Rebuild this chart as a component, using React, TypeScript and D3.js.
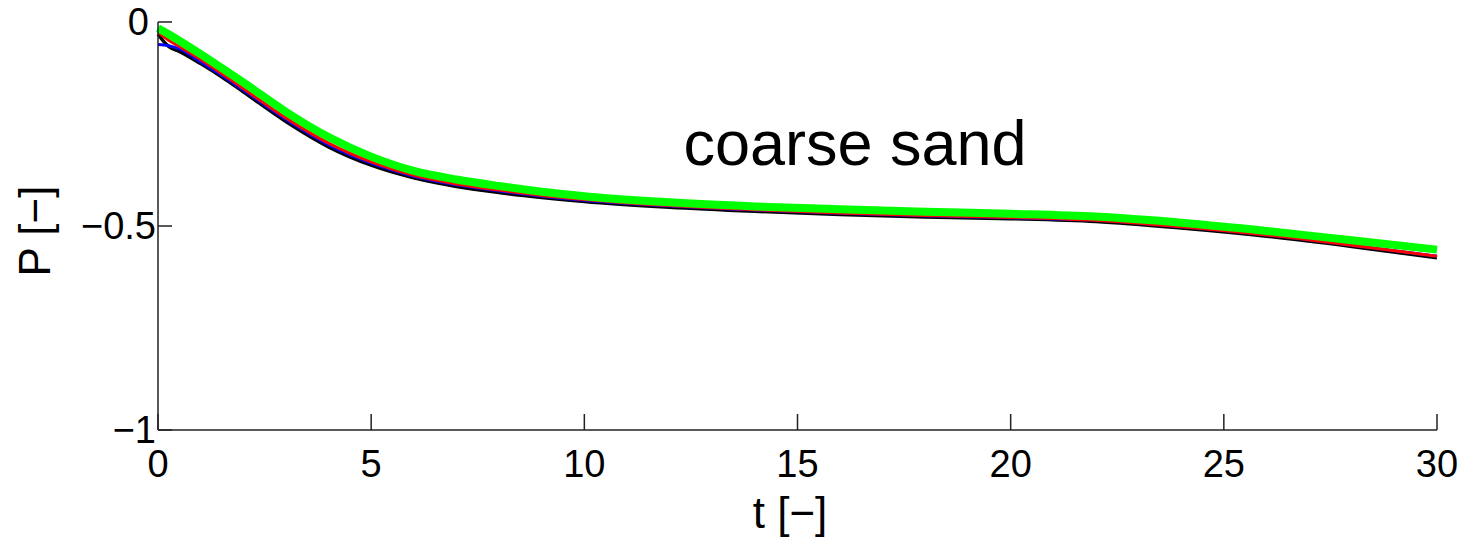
import { useEffect, useRef } from 'react';
import * as d3 from 'd3';

const tValues = [0, 0.25, 0.5, 1, 1.5, 2, 3, 4, 5, 6, 7, 8, 9, 10, 12, 14, 16, 18, 20, 22, 24, 26, 28, 30];

const blackP = [-0.03, -0.06, -0.072, -0.102, -0.135, -0.171, -0.244, -0.306, -0.351, -0.382, -0.403, -0.418, -0.43, -0.44, -0.454, -0.464, -0.472, -0.478, -0.482, -0.489, -0.505, -0.525, -0.55, -0.578];
const blueP = [-0.055, -0.058, -0.066, -0.098, -0.131, -0.167, -0.239, -0.301, -0.346, -0.378, -0.399, -0.414, -0.427, -0.437, -0.451, -0.461, -0.469, -0.475, -0.48, -0.486, -0.502, -0.522, -0.547, -0.574];
const redP = [-0.025, -0.045, -0.06, -0.092, -0.127, -0.163, -0.235, -0.297, -0.343, -0.376, -0.397, -0.412, -0.425, -0.435, -0.45, -0.46, -0.468, -0.474, -0.479, -0.486, -0.502, -0.522, -0.547, -0.574];
const greenP = [-0.015, -0.03, -0.046, -0.079, -0.113, -0.148, -0.22, -0.282, -0.33, -0.365, -0.386, -0.402, -0.416, -0.427, -0.442, -0.452, -0.459, -0.465, -0.47, -0.477, -0.492, -0.512, -0.535, -0.558];

const seriesList = [
  { name: 'black', values: blackP, color: '#000000', width: 3.5 },
  { name: 'blue', values: blueP, color: '#0000ff', width: 3 },
  { name: 'red', values: redP, color: '#ff0000', width: 3 },
  { name: 'green', values: greenP, color: '#00ff00', width: 8 },
];

const xTicks = [0, 5, 10, 15, 20, 25, 30];
const yTicks = [0, -0.5, -1];
const yTickLabels = ['0', '\u22120.5', '\u22121'];

const width = 1470;
const height = 549;
const margin = { left: 158, right: 33, top: 22, bottom: 119 };
const font = 'Liberation Sans, Arial, sans-serif';

const App = () => {
  const svgRef = useRef<SVGSVGElement>(null);

  useEffect(() => {
    const svg = d3.select(svgRef.current);
    svg.selectAll('*').remove();

    const x = d3.scaleLinear().domain([0, 30]).range([margin.left, width - margin.right]);
    const y = d3.scaleLinear().domain([-1, 0]).range([height - margin.bottom, margin.top]);

    const g = svg.append('g');

    // lines
    seriesList.forEach(s => {
      const line = d3.line<number>()
        .x((_, i) => x(tValues[i]))
        .y(d => y(d))
        .curve(d3.curveMonotoneX);
      g.append('path')
        .attr('d', line(s.values))
        .attr('fill', 'none')
        .attr('stroke', s.color)
        .attr('stroke-width', s.width)
        .attr('stroke-linejoin', 'round');
    });

    // axes lines
    g.append('line')
      .attr('x1', x(0)).attr('x2', x(30))
      .attr('y1', y(-1)).attr('y2', y(-1))
      .attr('stroke', '#222').attr('stroke-width', 1.5);
    g.append('line')
      .attr('x1', x(0)).attr('x2', x(0))
      .attr('y1', y(-1)).attr('y2', y(0))
      .attr('stroke', '#222').attr('stroke-width', 1.5);

    // x ticks (inward)
    g.selectAll('.xtick')
      .data(xTicks)
      .join('line')
      .attr('x1', d => x(d)).attr('x2', d => x(d))
      .attr('y1', y(-1)).attr('y2', y(-1) - 16)
      .attr('stroke', '#222').attr('stroke-width', 1.5);
    g.selectAll('.xlabel')
      .data(xTicks)
      .join('text')
      .attr('x', d => x(d))
      .attr('y', y(-1) + 47)
      .attr('text-anchor', 'middle')
      .attr('font-family', font)
      .attr('font-size', 38)
      .text(d => String(d));

    // y ticks (inward)
    g.selectAll('.ytick')
      .data(yTicks)
      .join('line')
      .attr('x1', x(0)).attr('x2', x(0) + 14)
      .attr('y1', d => y(d)).attr('y2', d => y(d))
      .attr('stroke', '#222').attr('stroke-width', 1.5);
    g.selectAll('.ylabel')
      .data(yTicks)
      .join('text')
      .attr('x', (_, i) => x(0) - (i === 0 ? 9 : 2))
      .attr('y', d => y(d) + 13)
      .attr('text-anchor', 'end')
      .attr('font-family', font)
      .attr('font-size', 38)
      .text((_, i) => yTickLabels[i]);

    // axis titles
    g.append('text')
      .attr('x', 790)
      .attr('y', 528)
      .attr('text-anchor', 'middle')
      .attr('font-family', font)
      .attr('font-size', 44)
      .text('t [\u2212]');
    g.append('text')
      .attr('transform', `translate(50,231) rotate(-90)`)
      .attr('text-anchor', 'middle')
      .attr('font-family', font)
      .attr('font-size', 44)
      .text('P [\u2212]');

    // annotation
    g.append('text')
      .attr('x', 855)
      .attr('y', 165)
      .attr('text-anchor', 'middle')
      .attr('font-family', font)
      .attr('font-size', 63)
      .text('coarse sand');
  }, []);

  return <svg ref={svgRef} width={width} height={height} style={{ position: 'absolute', left: 0, top: 0, background: '#fff' }} />;
};

export default App;
